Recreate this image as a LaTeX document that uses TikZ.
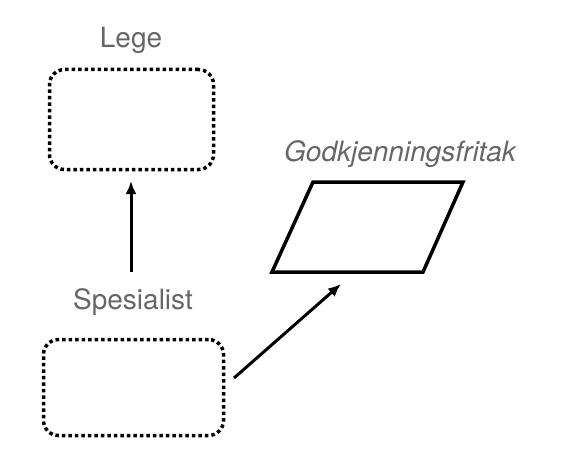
\documentclass[tikz,border=0pt]{standalone}
\usepackage{fontspec}
\setmainfont{TeX Gyre Heros}
\usepackage{xcolor}
\usepackage{tikz}
\usetikzlibrary{arrows.meta,positioning,calc}
\definecolor{labelgray}{RGB}{102, 102, 102}

\begin{document}
\begin{tikzpicture}[x=1pt, y=-1pt, >={Latex[length=13pt,width=11pt]},
    rolebox/.style={draw, line width=3.5pt, dash pattern=on 3.5pt off 3pt, rounded corners=15pt, inner sep=0pt},
    docline/.style={line width=3.5pt, line join=miter},
    rolelabel/.style={text=labelgray, font=\fontsize{28}{32}\selectfont},
    link/.style={->, line width=3pt}]
    \useasboundingbox (0,0) rectangle (564,468);

    % Roles
    \node[rolebox, minimum width=164pt, minimum height=100pt] (lege) at (131.5,119.5) {};
    \node[rolelabel] (legelabel) at (131,40) {Lege};
    \node[rolebox, minimum width=180pt, minimum height=96pt] (spesialist) at (133.5,387.5) {};
    \node[rolelabel] (spesialistlabel) at (133,302) {Spesialist};

    % Document (parallelogram)
    \coordinate (fritaktl) at (313,182);
    \coordinate (fritaktr) at (463,182);
    \coordinate (fritakbr) at (423,272);
    \coordinate (fritakbl) at (272,272);
    \draw[docline] (fritaktl) -- (fritaktr) -- (fritakbr) -- (fritakbl) -- cycle;
    \node[rolelabel, font=\fontsize{28}{32}\selectfont\itshape] (fritaklabel) at (400,154) {Godkjenningsfritak};

    % Connectors
    \coordinate (upstart) at (131,272);
    \coordinate (upend) at (131,181);
    \coordinate (diagstart) at (234,378);
    \coordinate (diagend) at (341,284);
    \draw[link] (upstart) -- (upend);
    \draw[link] (diagstart) -- (diagend);
\end{tikzpicture}
\end{document}
